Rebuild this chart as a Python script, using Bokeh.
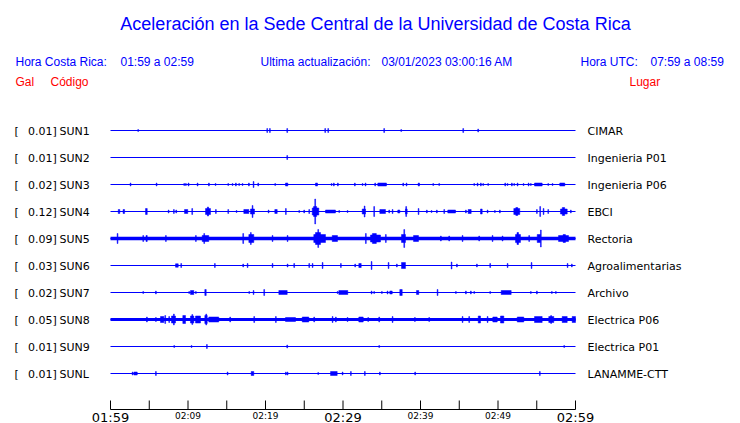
from bokeh.plotting import figure
from bokeh.models import Range1d
from bokeh.core.properties import value
from bokeh.embed import file_html
from bokeh.resources import INLINE

BLUE = "#0000ff"
RED = "#ff0000"
BLACK = "#000000"

# ---------------- data ----------------
title = "Aceleración en la Sede Central de la Universidad de Costa Rica"
hora_cr = "01:59 a 02:59"
hora_utc = "07:59 a 08:59"
ultima = "03/01/2023 03:00:16 AM"

stations = ["SUN1", "SUN2", "SUN3", "SUN4", "SUN5", "SUN6", "SUN7", "SUN8", "SUN9", "SUNL"]
peak_gal = ["0.01]", "0.01]", "0.02]", "0.12]", "0.09]", "0.03]", "0.02]", "0.05]", "0.01]", "0.01]"]
places = ["CIMAR", "Ingenieria P01", "Ingenieria P06", "EBCI", "Rectoria",
          "Agroalimentarias", "Archivo", "Electrica P06", "Electrica P01", "LANAMME-CTT"]
# continuous background noise half-amplitude of each trace
noise_amp = [0, 0, 0, 0, 1.8, 0, 0, 1.4, 0, 0]

# bursts: (start minute, end minute, half-amplitude); minutes after 01:59
bursts_sun1 = [(3.52, 3.52, 1), (20.17, 20.17, 2), (20.52, 20.52, 2), (22.75, 22.75, 2),
               (27.65, 27.65, 2), (28.04, 28.04, 2), (35.26, 35.26, 2), (37.46, 37.46, 1),
               (45.46, 45.46, 2), (47.39, 47.39, 1.5)]
bursts_sun2 = [(22.75, 22.75, 2)]
bursts_sun3 = [(2.54, 2.54, 1.5), (5.90, 5.90, 1.5), (9.46, 9.46, 1), (9.68, 9.68, 1),
               (10.03, 10.03, 1.5), (11.19, 11.19, 1.5), (12.65, 12.65, 1.5), (13.51, 13.51, 1),
               (15.14, 15.14, 1), (15.70, 15.70, 1), (16.13, 16.13, 1.5), (16.55, 16.55, 1),
               (16.99, 16.99, 1), (17.81, 17.81, 1.5), (18.41, 18.41, 3), (19.01, 19.01, 1.5),
               (21.20, 21.20, 1), (22.58, 22.88, 1.5), (26.45, 26.71, 1.5), (28.48, 28.48, 1),
               (28.77, 28.77, 1.5), (29.29, 29.29, 1.5), (31.48, 31.48, 1.5), (32.48, 32.48, 1),
               (32.86, 32.86, 1.5), (34.10, 34.10, 1.5), (34.49, 35.61, 1.5), (37.72, 37.72, 1.5),
               (38.15, 38.15, 1.5), (39.70, 39.87, 1.5), (41.59, 41.59, 1), (42.36, 42.36, 1),
               (46.88, 46.88, 1), (47.32, 47.32, 1.5), (47.74, 47.74, 1.5), (48.04, 48.04, 1),
               (48.68, 48.68, 1), (50.88, 50.88, 1.5), (51.19, 51.19, 1), (51.74, 51.74, 1.5),
               (52.04, 52.04, 1), (52.48, 52.48, 1.5), (53.25, 53.25, 1), (53.90, 53.90, 1.5),
               (54.19, 54.19, 1), (54.71, 55.70, 1.5), (56.43, 56.43, 1), (56.99, 56.99, 1),
               (57.97, 58.62, 1.5)]
bursts_sun4 = [(1.00, 1.20, 2), (1.62, 1.82, 2), (4.52, 4.74, 3), (7.45, 7.45, 1.5),
               (8.13, 8.13, 2), (8.43, 8.43, 1.5), (9.55, 9.97, 2), (10.49, 10.49, 3),
               (12.26, 12.90, 3), (12.50, 12.65, 4.5), (13.55, 13.55, 2), (15.14, 15.14, 2),
               (16.22, 16.22, 1), (17.20, 17.85, 2), (18.06, 18.58, 2.5), (18.28, 18.28, 6),
               (20.35, 20.35, 1.5), (21.20, 21.51, 2), (22.58, 22.58, 3), (24.30, 24.30, 1),
               (24.94, 24.94, 1.5), (25.59, 25.59, 2), (26.03, 26.88, 3.5), (26.20, 26.60, 5),
               (26.36, 26.36, 12.5), (27.74, 29.03, 1.5), (29.46, 29.46, 1), (30.54, 30.54, 1),
               (32.48, 32.90, 2.5), (32.74, 32.74, 5.5), (33.97, 33.97, 5), (34.75, 35.48, 2),
               (35.91, 35.91, 1.5), (36.35, 36.35, 2), (37.07, 37.33, 1.5), (38.06, 38.28, 2.5),
               (38.10, 38.10, 5), (39.70, 39.70, 3), (40.77, 40.77, 1.5), (41.38, 41.38, 1),
               (42.06, 42.06, 1.5), (43.01, 43.01, 2), (43.52, 44.52, 1.5), (45.81, 45.81, 1.5),
               (46.15, 46.54, 2), (47.74, 47.96, 2.5), (48.61, 48.61, 1.5), (49.55, 49.55, 1),
               (50.19, 50.19, 1.5), (52.04, 52.81, 3), (52.30, 52.55, 4), (54.97, 54.97, 2),
               (55.39, 55.39, 5), (55.83, 55.83, 3), (56.43, 56.43, 2), (58.06, 58.93, 2.5),
               (58.30, 58.60, 4), (59.35, 59.35, 1.5)]
bursts_sun5 = [(0.86, 0.86, 5), (4.17, 4.17, 3), (4.58, 4.74, 3), (7.10, 7.10, 3),
               (10.97, 10.97, 3), (11.83, 12.68, 3), (12.04, 12.04, 5), (17.07, 17.07, 5),
               (17.85, 18.49, 4), (18.06, 18.06, 6), (20.86, 20.86, 3), (22.80, 22.80, 3),
               (26.23, 27.74, 4), (26.45, 27.10, 6), (26.75, 26.75, 9), (28.61, 29.29, 3),
               (32.90, 32.90, 5), (33.55, 34.84, 3.5), (33.80, 34.30, 5), (35.48, 35.48, 4),
               (37.55, 38.06, 4), (37.85, 37.85, 9), (39.10, 39.74, 3), (42.58, 42.58, 2.5),
               (43.65, 43.65, 2.5), (45.38, 45.38, 3), (47.52, 47.52, 2.5), (49.25, 49.25, 3),
               (50.54, 50.54, 2.5), (52.26, 52.90, 4), (52.45, 52.65, 6), (53.97, 53.97, 3),
               (55.06, 55.48, 4), (55.48, 55.48, 8.5), (57.81, 59.10, 3), (58.40, 58.70, 4)]
bursts_sun6 = [(8.39, 8.74, 1.7), (9.07, 9.07, 2), (13.42, 13.42, 2), (17.07, 17.07, 1.5),
               (17.64, 17.64, 2), (20.86, 20.86, 2), (22.80, 22.80, 1.5), (23.65, 23.65, 2),
               (25.59, 25.59, 2), (26.03, 26.03, 2), (27.32, 27.32, 3), (29.68, 29.68, 2),
               (31.52, 31.52, 1.5), (32.04, 32.35, 2), (33.64, 33.64, 4), (35.83, 35.83, 3),
               (36.90, 36.90, 1.5), (37.55, 38.06, 3), (43.96, 43.96, 3.5), (44.65, 44.65, 1.5),
               (47.23, 47.23, 1.5), (48.94, 48.94, 2), (51.19, 51.19, 2), (54.28, 54.28, 3),
               (58.93, 58.93, 2), (59.48, 59.48, 1.5)]
bursts_sun7 = [(4.17, 4.17, 1), (5.81, 5.81, 1.5), (10.10, 10.10, 1), (10.32, 10.75, 2),
               (10.97, 10.97, 1), (12.17, 12.35, 3), (17.85, 17.85, 1), (18.41, 18.41, 2),
               (19.78, 19.78, 3), (21.72, 22.80, 2), (29.25, 29.25, 1), (29.46, 30.62, 2),
               (33.64, 33.64, 1.5), (33.97, 33.97, 1), (34.97, 34.97, 1), (35.70, 35.70, 1.5),
               (36.04, 36.35, 1.5), (37.33, 37.64, 3), (39.48, 39.78, 2), (42.15, 42.15, 3),
               (44.52, 44.52, 1), (45.81, 45.81, 1.5), (46.45, 46.45, 1.5), (46.88, 46.88, 1),
               (48.94, 48.94, 1), (50.41, 51.70, 2), (54.19, 54.19, 1), (54.97, 54.97, 1.5),
               (56.90, 56.90, 1), (57.42, 57.42, 1)]
bursts_sun8 = [(4.65, 4.65, 2.5), (5.81, 5.81, 2), (6.45, 6.88, 3), (7.01, 7.01, 4),
               (7.52, 7.52, 3), (7.87, 8.39, 3.5), (8.13, 8.13, 5.5), (9.33, 9.68, 4),
               (10.32, 10.75, 3.5), (10.50, 10.55, 5), (10.97, 11.61, 3.5), (12.17, 12.48, 4),
               (12.30, 12.30, 5.5), (12.68, 13.97, 2.5), (15.39, 15.39, 2.5), (18.49, 18.49, 3),
               (21.29, 21.29, 3), (22.58, 23.87, 2), (24.74, 25.59, 2.5), (26.23, 26.23, 2.5),
               (28.61, 28.61, 3), (29.03, 29.03, 2.5), (30.54, 30.54, 2), (32.04, 32.61, 2.5),
               (33.20, 33.20, 2), (34.62, 34.62, 2.5), (36.35, 36.35, 3), (39.23, 39.23, 2),
               (41.07, 41.07, 2), (45.38, 45.38, 3), (46.23, 46.23, 3), (47.45, 47.74, 3.5),
               (48.61, 48.61, 3), (49.33, 49.90, 2.5), (50.32, 50.75, 3.5), (52.48, 53.33, 2.5),
               (54.71, 55.70, 3), (56.55, 57.20, 3), (56.80, 56.90, 4), (58.28, 58.93, 3),
               (59.57, 60.00, 3)]
bursts_sun9 = [(8.17, 8.17, 1), (10.41, 10.41, 1), (12.39, 12.39, 2), (22.75, 22.75, 1.5),
               (34.62, 34.62, 1), (58.49, 58.49, 1)]
bursts_sunl = [(2.80, 2.80, 1.5), (3.01, 3.45, 1.5), (5.81, 5.81, 2), (15.06, 15.06, 1.5),
               (18.15, 18.49, 2), (22.58, 22.58, 1.5), (22.80, 22.80, 1.5), (26.75, 26.75, 1),
               (28.39, 29.25, 2), (29.90, 29.90, 1.5), (30.97, 30.97, 2), (32.77, 32.77, 2),
               (34.71, 34.71, 1.5), (39.26, 39.26, 1.5), (55.35, 55.35, 2)]
bursts = [bursts_sun1, bursts_sun2, bursts_sun3, bursts_sun4, bursts_sun5,
          bursts_sun6, bursts_sun7, bursts_sun8, bursts_sun9, bursts_sunl]

tick_minutes = [0, 5, 10, 15, 20, 25, 30, 35, 40, 45, 50, 55, 60]
label_minutes = [0, 10, 20, 30, 40, 50, 60]
tick_labels = ["01:59", "02:09", "02:19", "02:29", "02:39", "02:49", "02:59"]
big_labels = ["01:59", "02:29", "02:59"]

# ---------------- layout ----------------
W, H = 740, 423
PX_PER_MIN = 7.75
X0 = 110  # canvas px of minute 0
ROW0, ROW_STEP = 130, 27
AXIS_Y = 409

p = figure(width=W, height=H, output_backend="svg", toolbar_location=None,
           x_range=Range1d(-X0 / PX_PER_MIN, (W - X0) / PX_PER_MIN),
           y_range=Range1d(H, 0), min_border=0,
           x_axis_location=None, y_axis_location=None)
p.extra_x_ranges = {"px": Range1d(0, W)}
p.grid.visible = False
p.outline_line_color = None
p.background_fill_color = "white"
p.border_fill_color = "white"

TF_SANS = value("Liberation Sans")
TF_DV = value("DejaVu Sans")


def txt(x, y, s, size, color=BLACK, align="left", font=TF_SANS, rng="px"):
    kw = dict(x_range_name=rng) if rng else {}
    p.text(x=[x], y=[y], text=[s], text_font=font, text_font_size=size,
           text_color=color, text_align=align, text_baseline="middle", **kw)


# header
txt(375, 23, title, "18px", BLUE, "center")
txt(15, 61, "Hora Costa Rica:", "12px", BLUE)
txt(120, 61, hora_cr, "12px", BLUE)
txt(260, 61, "Ultima actualización:", "12px", BLUE)
txt(381, 61, ultima, "12px", BLUE)
txt(580, 61, "Hora UTC:", "12px", BLUE)
txt(650, 61, hora_utc, "12px", BLUE)
txt(15, 81, "Gal", "12px", RED)
txt(50, 81, "Código", "12px", RED)
txt(629, 81, "Lugar", "12px", RED)

# traces
for i in range(len(stations)):
    base = ROW0 + ROW_STEP * i
    txt(14, base + 0.5, "[", "11px", font=TF_DV)
    txt(27.5, base + 0.5, peak_gal[i], "11px", font=TF_DV)
    txt(59, base + 0.5, stations[i], "11px", font=TF_DV)
    txt(587, base + 0.5, places[i], "11px", font=TF_DV)

    p.segment(x0=[0], x1=[60], y0=[base], y1=[base], line_color=BLUE, line_width=1)
    if noise_amp[i] > 0:
        a = noise_amp[i]
        p.quad(left=[0], right=[60], top=[base - a], bottom=[base + a],
               fill_color=BLUE, line_color=None)
    b = bursts[i]
    left = [t0 for t0, t1, a in b]
    right = [max(t1, t0 + 0.1) for t0, t1, a in b]
    top = [base - a for t0, t1, a in b]
    bottom = [base + a for t0, t1, a in b]
    p.quad(left=left, right=right, top=top, bottom=bottom,
           fill_color=BLUE, line_color=BLUE, line_width=0.5)

# time axis
p.segment(x0=[0], x1=[60], y0=[AXIS_Y], y1=[AXIS_Y], line_color=BLACK, line_width=1)
p.segment(x0=tick_minutes, x1=tick_minutes, y0=[AXIS_Y - 9] * len(tick_minutes),
          y1=[AXIS_Y] * len(tick_minutes), line_color=BLACK, line_width=1)
for m, lab in zip(label_minutes, tick_labels):
    if lab in big_labels:
        txt(m, 416.5, lab, "13px", BLACK, "center", TF_DV, None)
    else:
        txt(m, 415.5, lab, "9px", BLACK, "center", TF_DV, None)

open("out.html", "w").write(file_html(p, INLINE))
